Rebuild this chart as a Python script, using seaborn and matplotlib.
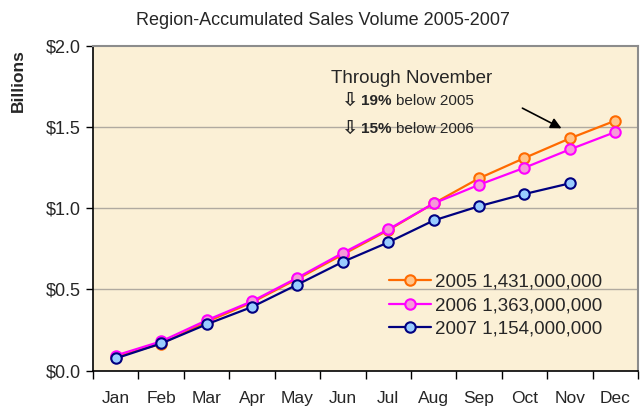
import numpy as np
import pandas as pd
import matplotlib
matplotlib.use("Agg")
import matplotlib.pyplot as plt
import seaborn as sns

months = ["Jan", "Feb", "Mar", "Apr", "May", "Jun",
          "Jul", "Aug", "Sep", "Oct", "Nov", "Dec"]

# accumulated sales volume, billions
sales_2005 = [0.085, 0.165, 0.30, 0.42, 0.565, 0.715, 0.865, 1.03, 1.185, 1.31, 1.431, 1.54]
sales_2006 = [0.093, 0.18, 0.31, 0.427, 0.572, 0.725, 0.87, 1.03, 1.145, 1.25, 1.363, 1.47]
sales_2007 = [0.075, 0.167, 0.285, 0.392, 0.53, 0.67, 0.79, 0.925, 1.013, 1.088, 1.154]

legend_labels = ["2005 1,431,000,000", "2006 1,363,000,000", "2007 1,154,000,000"]
y_ticks = [0.0, 0.5, 1.0, 1.5, 2.0]
y_tick_labels = ["$0.0", "$0.5", "$1.0", "$1.5", "$2.0"]

sns.set_style("ticks")
plt.rcParams["font.family"] = ["Liberation Sans", "DejaVu Sans"]

fig = plt.figure(figsize=(6.42, 4.12), dpi=100)
ax = fig.add_axes([0.1449, 0.1005, 0.8489, 0.7878])
ax.set_facecolor("#fbf0d6")

styles = [
    (sales_2005, legend_labels[0], "#ff6a00", "#ffc48a"),
    (sales_2006, legend_labels[1], "#ff00ff", "#f59ad8"),
    (sales_2007, legend_labels[2], "#000080", "#99ccff"),
]
for values, label, line_col, face_col in styles:
    df = pd.DataFrame({"month": np.arange(len(values)), "sales": values})
    sns.lineplot(data=df, x="month", y="sales", ax=ax, color=line_col,
                 linewidth=1.6, marker="o", markersize=7.5,
                 markerfacecolor=face_col, markeredgecolor=line_col,
                 markeredgewidth=1.5, label=label, zorder=3)

ax.set_xlim(-0.5, 11.5)
ax.set_ylim(0, 2.0)
ax.set_xticks(range(12))
ax.set_xticklabels(months, fontsize=12.5)
ax.set_xticks(np.arange(-0.5, 12, 1), minor=True)
ax.tick_params(axis="x", which="major", length=0, pad=15)
ax.tick_params(axis="x", which="minor", length=6, width=1, direction="out", color="black")
ax.set_yticks(y_ticks)
ax.set_yticklabels(y_tick_labels, fontsize=13)
ax.tick_params(axis="y", length=5, width=1, direction="out", color="black", pad=4)

for y in y_ticks[1:-1]:
    ax.axhline(y, color="#b0aaa0", linewidth=1, zorder=1)

for side in ["left", "bottom"]:
    ax.spines[side].set_color("black")
    ax.spines[side].set_linewidth(1.2)
for side in ["top", "right"]:
    ax.spines[side].set_color("#8c8c8c")
    ax.spines[side].set_linewidth(1.5)

ax.set_xlabel("")
ax.set_ylabel("Billions", fontsize=12.5, fontweight="bold")
ax.yaxis.set_label_coords(-0.123, 0.895)

fig.suptitle("Region-Accumulated Sales Volume 2005-2007", fontsize=13, x=0.503, y=0.972)

# annotation
ax.text(4.73, 1.80, "Through November", fontsize=13.5, va="center")
ax.text(4.96, 1.665, "\u21e9", fontsize=14, va="center", family=["DejaVu Sans"], fontweight="bold")
ax.text(5.40, 1.66, "19%", fontsize=11, va="center", fontweight="bold")
ax.text(6.17, 1.66, "below 2005", fontsize=11, va="center")
ax.text(4.96, 1.495, "\u21e9", fontsize=14, va="center", family=["DejaVu Sans"], fontweight="bold")
ax.text(5.40, 1.49, "15%", fontsize=11, va="center", fontweight="bold")
ax.text(6.17, 1.49, "below 2006", fontsize=11, va="center")
ax.annotate("", xy=(9.87, 1.485), xytext=(8.9, 1.625),
            arrowprops=dict(arrowstyle="-|>", color="black", lw=1.2, mutation_scale=16))

ax.legend(loc="upper left", bbox_to_anchor=(0.513, 0.35), frameon=False,
          fontsize=13.5, handlelength=2.2, labelspacing=0.33, handletextpad=0.25)

fig.savefig("out.png", dpi=100, facecolor="white")
